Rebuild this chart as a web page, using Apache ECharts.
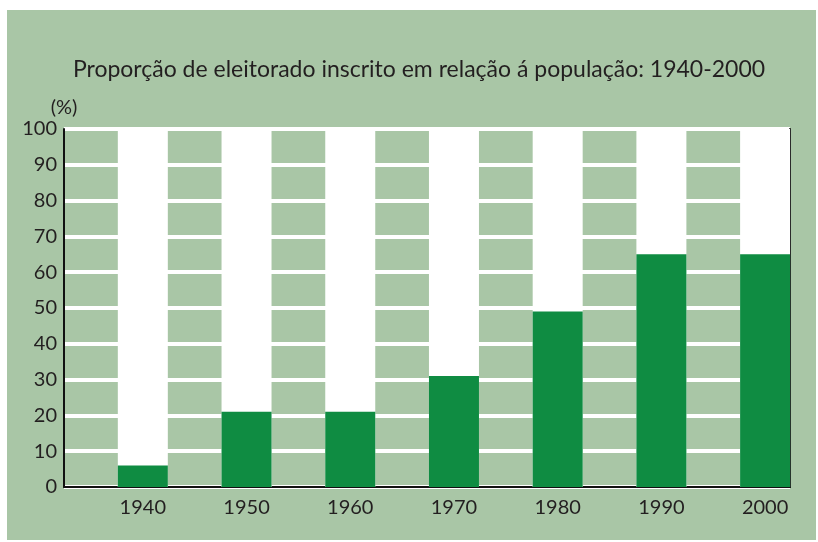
<!DOCTYPE html>
<html><head><meta charset="utf-8">
<script src="https://cdn.jsdelivr.net/npm/echarts@6/dist/echarts.min.js"></script>
<style>html,body{margin:0;padding:0;background:#fff;} #c{position:absolute;left:7px;top:10px;width:809px;height:530px;}</style>
</head><body><div id="c"></div>
<script>
const titleText = 'Proporção de eleitorado inscrito em relação á população: 1940-2000';
const yAxisName = '(%)';
const years = [1940, 1950, 1960, 1970, 1980, 1990, 2000];
const values = [6, 21, 21, 31, 49, 65, 65];
const yMin = 0, yMax = 100, yStep = 10;

const FONT = 'Lato';
const TXT = '#231f20';
const chart = echarts.init(document.getElementById('c'));
chart.setOption({
  backgroundColor: '#a9c6a6',
  animation: false,
  title: {
    text: titleText,
    left: 407,
    textAlign: 'center',
    top: 43,
    textStyle: { fontFamily: FONT, fontSize: 23, fontWeight: 'normal', color: TXT }
  },
  grid: { left: 57, right: 26, top: 119, bottom: 53 },
  xAxis: {
    type: 'value',
    min: 1932.4,
    max: 2002.4,
    axisLine: { show: true, lineStyle: { color: '#111', width: 2 } },
    axisTick: { show: false },
    splitLine: { show: false },
    axisLabel: {
      customValues: years,
      formatter: v => String(v),
      color: TXT, fontFamily: FONT, fontSize: 20, margin: 11
    }
  },
  yAxis: [{
    type: 'value',
    min: yMin, max: yMax, interval: yStep,
    name: yAxisName,
    nameLocation: 'end',
    nameGap: 21,
    nameTextStyle: { fontFamily: FONT, fontSize: 20, color: TXT, align: 'center', verticalAlign: 'middle' },
    axisLine: { show: true, lineStyle: { color: '#111', width: 2 } },
    axisTick: { show: false },
    axisLabel: { color: TXT, fontFamily: FONT, fontSize: 20, margin: 7 },
    splitLine: { show: true, lineStyle: { color: '#ffffff', width: 4 } }
  }, {
    type: 'value',
    position: 'right',
    min: yMin, max: yMax, interval: yStep,
    axisLine: { show: true, lineStyle: { color: '#111', width: 2 } },
    axisTick: { show: false },
    axisLabel: { show: false },
    splitLine: { show: false }
  }],
  series: [{
    type: 'bar',
    yAxisIndex: 0,
    barWidth: 50,
    showBackground: true,
    backgroundStyle: { color: '#ffffff' },
    itemStyle: { color: '#0f8c42' },
    data: years.map((y, i) => [y, values[i]])
  }]
});
</script>
</body></html>
